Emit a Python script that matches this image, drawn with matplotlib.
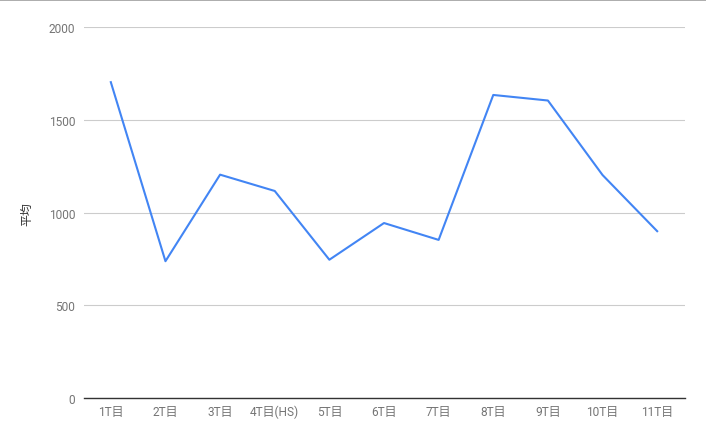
import matplotlib.pyplot as plt

plt.rcParams['font.family'] = ['Roboto', 'Noto Sans CJK JP', 'DejaVu Sans']

turns = ["1T目", "2T目", "3T目", "4T目(HS)", "5T目", "6T目",
         "7T目", "8T目", "9T目", "10T目", "11T目"]
average = [1704, 738, 1205, 1117, 746, 944, 853, 1635, 1605, 1203, 900]
y_ticks = [0, 500, 1000, 1500, 2000]

fig = plt.figure(figsize=(7.06, 4.39), dpi=100)
ax = fig.add_axes([83.5 / 706, 40 / 439, 601 / 706, 370.7 / 439])

x = list(range(len(turns)))
ax.plot(x, average, color="#4285f4", linewidth=1.5, zorder=3)

ax.set_xlim(-0.5, len(turns) - 0.5)
ax.set_ylim(0, 2000)
ax.set_yticks(y_ticks)
ax.set_yticklabels([str(v) for v in y_ticks])
ax.set_xticks(x)
ax.set_xticklabels(turns)

ax.grid(axis="y", color="#cccccc", linewidth=0.8)
ax.set_axisbelow(True)
for side in ["top", "right", "left"]:
    ax.spines[side].set_visible(False)
ax.spines["bottom"].set_color("#333333")
ax.spines["bottom"].set_linewidth(1.0)
ax.spines["bottom"].set_zorder(4)

ax.tick_params(axis="both", length=0, labelsize=8.6, labelcolor="#757575")
ax.tick_params(axis="y", pad=6)
ax.tick_params(axis="x", pad=5)

ax.set_ylabel("平均", fontsize=8.6, color="#333333")
ax.yaxis.set_label_coords(-50 / 601, 0.5)

# thin gray border line along the top of the image
fig.add_artist(plt.Line2D([0, 1], [1 - 1 / 439, 1 - 1 / 439],
                          color="#9e9e9e", linewidth=1.2,
                          transform=fig.transFigure))

fig.savefig("out.png", dpi=100)
